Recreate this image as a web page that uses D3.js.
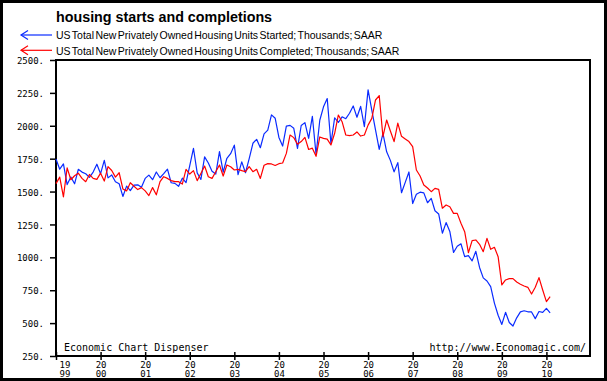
<!DOCTYPE html>
<html>
<head>
<meta charset="utf-8">
<script src="https://cdn.jsdelivr.net/npm/d3@7"></script>
<style>
	body { margin: 0; background: #fff; }
	svg { display: block; }
</style>
</head>
<body>
<svg id="chart" width="607" height="381"></svg>
<script>
// --------------------------------------------
// Data (monthly, Jan 1999 .. Feb 2010, thousands SAAR)
// --------------------------------------------
const firstYear = 1999;
const yearTicks = [1999, 2000, 2001, 2002, 2003, 2004, 2005, 2006, 2007, 2008, 2009, 2010];
const valueTicks = [250, 500, 750, 1000, 1250, 1500, 1750, 2000, 2250, 2500];

const started = [
	1748, 1670, 1710, 1553, 1611, 1559, 1669, 1648, 1635, 1608, 1648, 1708, // 1999
	1636, 1737, 1604, 1626, 1575, 1559, 1463, 1541, 1507, 1549, 1551, 1532, // 2000
	1600, 1625, 1590, 1649, 1605, 1636, 1670, 1567, 1562, 1540, 1602, 1568, // 2001
	1698, 1829, 1642, 1592, 1764, 1717, 1655, 1633, 1804, 1648, 1753, 1788, // 2002
	1853, 1629, 1726, 1643, 1751, 1867, 1897, 1833, 1939, 1967, 2083, 2057, // 2003
	1911, 1846, 1998, 2003, 1981, 1828, 2002, 2024, 1905, 2072, 1782, 2042, // 2004
	2144, 2207, 1864, 2061, 2025, 2068, 2054, 2095, 2151, 2065, 2147, 1994, // 2005
	2273, 2119, 1969, 1821, 1942, 1802, 1737, 1650, 1720, 1491, 1570, 1649, // 2006
	1409, 1480, 1495, 1490, 1415, 1448, 1354, 1330, 1183, 1264, 1197, 1037, // 2007
	1084, 1103, 1005, 1013, 973, 1046, 923, 844, 820, 777, 652, 560,        // 2008
	490, 582, 505, 478, 540, 585, 594, 586, 585, 534, 588, 581,             // 2009
	612, 577                                                                // 2010
];

const completed = [
	1560, 1610, 1460, 1680, 1590, 1620, 1640, 1600, 1575, 1630, 1600, 1593, // 1999
	1640, 1580, 1690, 1660, 1610, 1643, 1520, 1505, 1567, 1540, 1515, 1530, // 2000
	1505, 1470, 1530, 1475, 1575, 1613, 1600, 1583, 1575, 1575, 1557, 1669, // 2001
	1633, 1659, 1583, 1638, 1694, 1613, 1600, 1651, 1702, 1618, 1702, 1689, // 2002
	1664, 1669, 1659, 1651, 1689, 1651, 1669, 1600, 1700, 1712, 1710, 1698, // 2003
	1712, 1717, 1790, 1930, 1910, 1860, 1880, 1912, 1820, 1830, 1768, 1915, // 2004
	1904, 1899, 1854, 1943, 2082, 2031, 1930, 1925, 1930, 1953, 1922, 1930, // 2005
	2005, 2056, 2196, 2230, 1917, 2044, 1960, 1880, 2020, 1920, 1900, 1880, // 2006
	1841, 1664, 1618, 1550, 1527, 1499, 1524, 1517, 1373, 1398, 1385, 1334, // 2007
	1334, 1259, 1195, 1035, 1127, 1132, 1099, 1043, 1144, 1061, 1076, 1005, // 2008
	790, 828, 838, 838, 812, 795, 782, 772, 721, 772, 846, 752,             // 2009
	663, 701                                                                // 2010
];

const seriesNames = [
	"US Total New Privately Owned Housing Units Started; Thousands; SAAR",
	"US Total New Privately Owned Housing Units Completed; Thousands; SAAR"
];
const seriesColors = ["#0a2bff", "#ff0000"];

// --------------------------------------------
// Setup
// --------------------------------------------
const svg = d3.select("#chart");
const mono = "'DejaVu Sans Mono', monospace";
const sans = "'Liberation Sans', Arial, sans-serif";

const plot = { left: 56, top: 60, right: 590, bottom: 356 };

const x = d3.scaleLinear()
	.domain([firstYear, firstYear + 12])
	.range([plot.left, plot.left + 535]);

const y = d3.scaleLinear()
	.domain([250, 2500])
	.range([plot.bottom, plot.top]);

// outer frame
svg.append("rect")
	.attr("x", 1.5).attr("y", 1.5)
	.attr("width", 604).attr("height", 378)
	.attr("fill", "#fff")
	.attr("stroke", "#000")
	.attr("stroke-width", 3);

// title
svg.append("text")
	.attr("x", 56).attr("y", 22)
	.style("font-family", sans)
	.style("font-weight", "bold")
	.style("font-size", "14.3px")
	.text("housing starts and completions");

// legend
const legend = svg.append("g");
seriesNames.forEach(function(name, i) {
	var ly = 35 + i * 15.3;
	legend.append("line")
		.attr("x1", 21).attr("x2", 52)
		.attr("y1", ly).attr("y2", ly)
		.attr("stroke", seriesColors[i])
		.attr("stroke-width", 1.2);
	legend.append("path")
		.attr("d", "M28," + (ly - 4.5) + "L21," + ly + "L28," + (ly + 4.5))
		.attr("fill", "none")
		.attr("stroke", seriesColors[i])
		.attr("stroke-width", 1.2);
	legend.append("text")
		.attr("x", 56).attr("y", ly + 4.3)
		.style("font-family", sans)
		.style("font-size", "10.5px")
		.style("word-spacing", "-1.5px")
		.text(name);
});

// --------------------------------------------
// Axes
// --------------------------------------------
const yAxis = svg.append("g")
	.attr("transform", "translate(" + plot.left + ",0)")
	.call(d3.axisLeft(y)
		.tickValues(valueTicks)
		.tickFormat(d => d + ".")
		.tickSize(6)
		.tickPadding(6));
yAxis.select(".domain").remove();
yAxis.selectAll("line").attr("stroke-width", 1.5);
yAxis.selectAll("text")
	.attr("dy", "0.4em")
	.style("font-family", mono)
	.style("font-size", "9px")
	.attr("fill", "#000");

const xAxis = svg.append("g")
	.attr("transform", "translate(0," + plot.bottom + ")")
	.call(d3.axisBottom(x)
		.tickValues(yearTicks)
		.tickSize(4));
xAxis.select(".domain").remove();
xAxis.selectAll("line")
	.attr("y1", -4)
	.attr("stroke-width", 1.5);
xAxis.selectAll("text").remove();
xAxis.selectAll(".tick").each(function(d, i) {
	var dx = i === 0 ? 3 : 0;
	var t = d3.select(this).append("text")
		.attr("text-anchor", i === 0 ? "start" : "middle")
		.attr("fill", "#000")
		.style("font-family", mono)
		.style("font-size", "9px");
	var s = String(d);
	t.append("tspan").attr("x", dx).attr("y", 12).text(s.slice(0, 2));
	t.append("tspan").attr("x", dx).attr("y", 21).text(s.slice(2));
});

// plot frame
svg.append("rect")
	.attr("x", plot.left).attr("y", plot.top)
	.attr("width", plot.right - plot.left)
	.attr("height", plot.bottom - plot.top)
	.attr("fill", "none")
	.attr("stroke", "#000")
	.attr("stroke-width", 2);

// --------------------------------------------
// Lines
// --------------------------------------------
const line = d3.line()
	.x((d, i) => x(firstYear + i / 12))
	.y(d => y(d));

[started, completed].forEach(function(values, i) {
	svg.append("path")
		.datum(values)
		.attr("d", line)
		.attr("fill", "none")
		.attr("stroke", seriesColors[i])
		.attr("stroke-width", 1.2)
		.attr("stroke-linejoin", "round");
});

// footers
svg.append("text")
	.attr("x", 64).attr("y", 351)
	.style("font-family", mono)
	.style("font-size", "10px")
	.text("Economic Chart Dispenser");

svg.append("text")
	.attr("x", 586).attr("y", 351)
	.attr("text-anchor", "end")
	.style("font-family", mono)
	.style("font-size", "10px")
	.text("http://www.Economagic.com/");
</script>
</body>
</html>
